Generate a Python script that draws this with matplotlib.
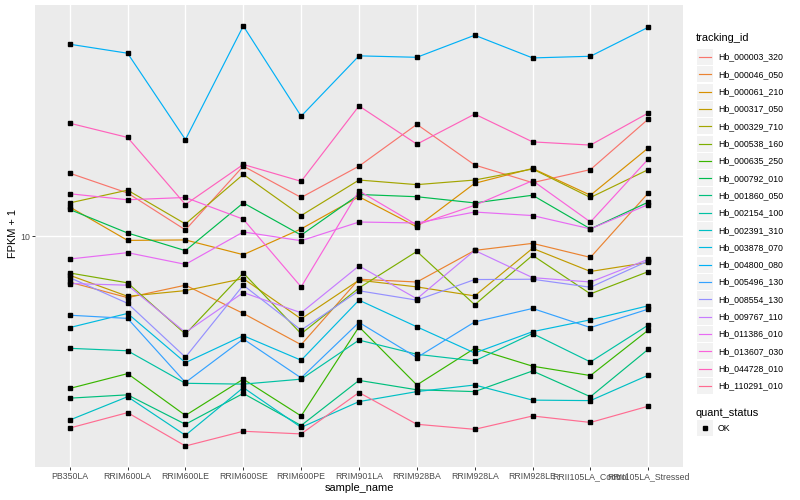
import numpy as np
import matplotlib
matplotlib.use('Agg')
import matplotlib.pyplot as plt
from matplotlib.lines import Line2D
from matplotlib.patches import Rectangle
from matplotlib.legend_handler import HandlerLine2D
from matplotlib.ticker import LogLocator, NullLocator, FuncFormatter

plt.rcParams['font.family'] = ['Liberation Sans', 'DejaVu Sans']

samples = ['PB350LA', 'RRIM600LA', 'RRIM600LE', 'RRIM600SE', 'RRIM600PE',
           'RRIM901LA', 'RRIM928BA', 'RRIM928LA', 'RRIM928LE',
           'RRII105LA_Control', 'RRII105LA_Stressed']

tracking_ids = ['Hb_000003_320', 'Hb_000046_050', 'Hb_000061_210', 'Hb_000317_050',
                'Hb_000329_710', 'Hb_000538_160', 'Hb_000635_250', 'Hb_000792_010',
                'Hb_001860_050', 'Hb_002154_100', 'Hb_002391_310', 'Hb_003878_070',
                'Hb_004800_080', 'Hb_005496_130', 'Hb_008554_130', 'Hb_009767_110',
                'Hb_011386_010', 'Hb_013607_030', 'Hb_044728_010', 'Hb_110291_010']

# FPKM + 1 per sample
hb_000003_320 = [17.9, 14.9, 10.6, 19.1, 14.3, 19.1, 28.1, 19.3, 16.4, 18.5, 29.5]
hb_000046_050 = [6.54, 5.67, 6.36, 4.90, 3.67, 6.72, 6.55, 8.77, 9.36, 8.22, 14.9]
hb_000061_210 = [13.1, 9.62, 9.66, 8.43, 10.7, 14.4, 10.9, 16.3, 18.7, 14.6, 22.6]
hb_000317_050 = [6.97, 5.74, 6.05, 6.76, 4.66, 6.66, 6.26, 5.76, 8.94, 7.22, 7.85]
hb_000329_710 = [13.6, 15.3, 11.2, 17.7, 12.1, 16.8, 16.1, 16.8, 18.6, 14.3, 18.5]
hb_000538_160 = [7.12, 6.50, 4.05, 7.12, 4.06, 6.20, 8.69, 5.31, 8.38, 5.87, 7.21]
hb_000635_250 = [2.45, 2.81, 1.91, 2.67, 1.90, 4.33, 2.53, 3.55, 3.01, 2.76, 4.20]
hb_000792_010 = [12.8, 10.3, 8.75, 13.6, 10.1, 14.7, 14.4, 13.6, 14.6, 10.7, 13.7]
hb_001860_050 = [2.24, 2.31, 1.76, 2.34, 1.74, 2.64, 2.42, 2.38, 2.88, 2.27, 3.52]
hb_002154_100 = [3.55, 3.47, 2.57, 2.55, 2.67, 3.83, 3.36, 3.16, 4.07, 3.13, 4.40]
hb_002391_310 = [1.83, 2.27, 1.59, 2.47, 1.71, 2.17, 2.38, 2.53, 2.20, 2.19, 2.77]
hb_003878_070 = [4.30, 4.90, 3.11, 3.99, 3.18, 5.54, 4.33, 3.40, 4.14, 4.62, 5.26]
hb_004800_080 = [58.9, 54.2, 24.4, 69.7, 30.3, 52.9, 52.2, 64.0, 51.9, 52.7, 68.9]
hb_005496_130 = [4.82, 4.68, 2.59, 3.87, 2.70, 4.51, 3.26, 4.53, 5.13, 4.30, 5.10]
hb_008554_130 = [6.82, 5.38, 3.27, 6.36, 4.20, 6.04, 5.54, 6.70, 6.72, 6.24, 7.96]
hb_009767_110 = [6.46, 6.36, 4.11, 5.94, 4.93, 7.60, 5.61, 8.77, 6.82, 6.55, 8.08]
hb_011386_010 = [8.10, 8.59, 7.71, 10.4, 9.59, 11.4, 11.3, 12.5, 12.1, 10.7, 13.4]
hb_013607_030 = [14.8, 14.0, 14.3, 11.7, 6.26, 15.2, 11.1, 13.3, 16.7, 11.4, 20.4]
hb_044728_010 = [28.4, 24.9, 13.4, 19.4, 16.6, 33.3, 23.4, 30.9, 23.9, 23.2, 31.2]
hb_110291_010 = [1.70, 1.96, 1.44, 1.65, 1.61, 2.36, 1.76, 1.68, 1.90, 1.79, 2.08]

series = [hb_000003_320, hb_000046_050, hb_000061_210, hb_000317_050, hb_000329_710,
          hb_000538_160, hb_000635_250, hb_000792_010, hb_001860_050, hb_002154_100,
          hb_002391_310, hb_003878_070, hb_004800_080, hb_005496_130, hb_008554_130,
          hb_009767_110, hb_011386_010, hb_013607_030, hb_044728_010, hb_110291_010]

# ggplot default hue palette for 20 levels
colors = ['#F8766D', '#EA8331', '#D89000', '#C09B00', '#A3A500', '#7CAE00', '#39B600',
          '#00BB4E', '#00BF7D', '#00C1A3', '#00BFC4', '#00BAE0', '#00B0F6', '#35A2FF',
          '#9590FF', '#C77CFF', '#E76BF3', '#FA62DB', '#FF62BC', '#FF6C91']


class KeyHandler(HandlerLine2D):
    # grey key background like ggplot legends, line centred in the key
    def create_artists(self, legend, orig_handle, xdescent, ydescent,
                       width, height, fontsize, trans):
        box = Rectangle((-xdescent, -ydescent), width, height,
                        facecolor='#F2F2F2', edgecolor='none', transform=trans)
        arts = super().create_artists(legend, orig_handle, xdescent, ydescent,
                                      width, height, fontsize, trans)
        yc = height / 2 - ydescent
        for a in arts:
            xd = np.asarray(a.get_xdata(), dtype=float)
            xd = -xdescent + width * (0.1 + 0.8 * (xd + xdescent) / width)
            a.set_xdata(xd)
            a.set_ydata(np.full_like(xd, yc))
        return [box] + list(arts)


fig = plt.figure(figsize=(8, 5), dpi=100)
ax = fig.add_axes([35 / 800, 1 - 467 / 500, 648 / 800, 462 / 500])
ax.set_facecolor('#EBEBEB')
for sp in ax.spines.values():
    sp.set_visible(False)

x = np.arange(len(samples))
handles = []
for vals, col in zip(series, colors):
    ln, = ax.plot(x, vals, color=col, lw=0.85, zorder=2)
    handles.append(ln)
for vals in series:
    ax.plot(x, vals, ls='none', marker='s', ms=2.8, color='black', zorder=3)

ax.set_yscale('log')
ax.margins(y=0.05)
ax.set_xlim(-0.6, len(samples) - 0.4)
ax.yaxis.set_major_locator(LogLocator(base=10, numticks=10))
ax.yaxis.set_minor_locator(NullLocator())
ax.yaxis.set_major_formatter(FuncFormatter(lambda v, p: '%g' % v))
ax.set_xticks(x)
ax.set_xticklabels(samples)
ax.grid(True, which='major', color='white', lw=1.0)
ax.set_axisbelow(True)
ax.tick_params(axis='both', color='#333333', length=2.2, width=0.7,
               labelsize=6.3, labelcolor='#4D4D4D', pad=1.5)

ax.set_xlabel('sample_name', fontsize=7.9)
ax.set_ylabel('FPKM + 1', fontsize=7.9)
ax.xaxis.set_label_coords(0.5, -0.0346)
ax.yaxis.set_label_coords(-0.027, 0.505)

# legend: tracking_id
fig.text(696 / 800, 1 - 38 / 500, 'tracking_id', fontsize=7.9, va='center', ha='left')
key_opts = dict(loc='upper left', frameon=False, fontsize=6.3,
                handlelength=1.83, handleheight=2.437, labelspacing=0.149,
                handletextpad=0.55, borderaxespad=0, borderpad=0,
                handler_map={Line2D: KeyHandler()})
fig.legend(handles=handles, labels=tracking_ids,
           bbox_to_anchor=(697 / 800, 1 - 49 / 500), **key_opts)

# legend: quant_status
fig.text(696 / 800, 1 - 413 / 500, 'quant_status', fontsize=7.9, va='center', ha='left')
ok = Line2D([], [], ls='none', marker='s', ms=2.8, color='black')
fig.legend(handles=[ok], labels=['OK'],
           bbox_to_anchor=(697 / 800, 1 - 420 / 500), **key_opts)

fig.savefig('out.png', dpi=100)
